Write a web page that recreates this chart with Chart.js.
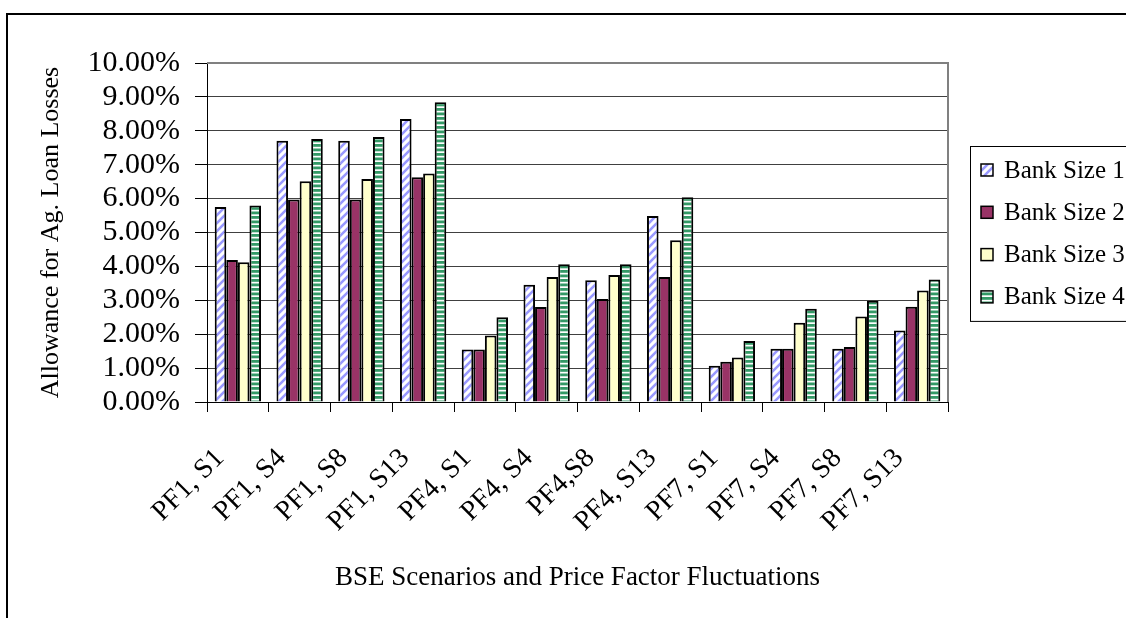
<!DOCTYPE html>
<html>
<head>
<meta charset="utf-8">
<script src="https://cdn.jsdelivr.net/npm/chart.js@4.4.1/dist/chart.umd.min.js"></script>
<style>
  html, body { margin: 0; padding: 0; background: #fff; overflow: hidden; }
  #wrap { position: relative; width: 1126px; height: 618px; }
  canvas { display: block; }
</style>
</head>
<body>
<div id="wrap"><canvas id="chart" width="1126" height="618"></canvas></div>
<script>
// Scenario categories (price factor, BSE scenario)
const categories = ['PF1, S1', 'PF1, S4', 'PF1, S8', 'PF1, S13',
                    'PF4, S1', 'PF4, S4', 'PF4,S8', 'PF4, S13',
                    'PF7, S1', 'PF7, S4', 'PF7, S8', 'PF7, S13'];

const seriesNames = ['Bank Size 1', 'Bank Size 2', 'Bank Size 3', 'Bank Size 4'];

// Allowance for agricultural loan losses, in percent
const bankSize1 = [5.75, 7.71, 7.71, 8.35, 1.55, 3.46, 3.59, 5.49, 1.07, 1.57, 1.57, 2.11];
const bankSize2 = [4.19, 5.97, 5.97, 6.63, 1.55, 2.80, 3.04, 3.69, 1.19, 1.57, 1.62, 2.81];
const bankSize3 = [4.12, 6.51, 6.58, 6.74, 1.96, 3.69, 3.75, 4.77, 1.31, 2.34, 2.52, 3.29];
const bankSize4 = [5.80, 7.76, 7.82, 8.84, 2.50, 4.06, 4.06, 6.04, 1.80, 2.75, 2.99, 3.61];

// Value axis range and step (percent)
const yMin = 0, yMax = 10, yStep = 1;

const SERIF = "'Liberation Serif', 'Times New Roman', serif";

// Fill patterns
function tile(w, h, paint) {
  const c = document.createElement('canvas');
  c.width = w; c.height = h;
  const g = c.getContext('2d');
  paint(g);
  return document.createElement('canvas').getContext('2d').createPattern(c, 'repeat');
}
const diagonalBlue = tile(8, 8, g => {
  g.fillStyle = '#ffffff'; g.fillRect(0, 0, 8, 8);
  g.strokeStyle = '#9999ff'; g.lineWidth = 2.6;
  g.beginPath();
  g.moveTo(-2, 10); g.lineTo(10, -2);
  g.moveTo(-2, 2); g.lineTo(2, -2);
  g.moveTo(6, 10); g.lineTo(10, 6);
  g.stroke();
});
const stripedGreen = tile(4, 9, g => {
  g.fillStyle = '#ffffff'; g.fillRect(0, 0, 4, 9);
  g.fillStyle = '#339966';
  g.fillRect(0, 0, 4, 2.8);
  g.fillRect(0, 4.5, 4, 2.8);
});

const fills = [diagonalBlue, '#993366', '#ffffcc', stripedGreen];
const values = [bankSize1, bankSize2, bankSize3, bankSize4];

// Outer frame and plot-area border
const framePlugin = {
  id: 'frame',
  beforeDraw(chart) {
    const ctx = chart.ctx;
    ctx.save();
    ctx.fillStyle = '#fff';
    ctx.fillRect(0, 0, chart.width, chart.height);
    ctx.strokeStyle = '#000';
    ctx.lineWidth = 2;
    ctx.strokeRect(7, 14, chart.width + 20, chart.height + 20);
    ctx.restore();
  },
  beforeDatasetsDraw(chart) {
    const { ctx, chartArea: a } = chart;
    ctx.save();
    ctx.strokeStyle = '#808080';
    ctx.lineWidth = 2;
    ctx.beginPath();
    ctx.moveTo(a.left, a.top);
    ctx.lineTo(a.right, a.top);
    ctx.lineTo(a.right, a.bottom);
    ctx.stroke();
    ctx.restore();
  }
};

// Boxed legend on the right
const boxLegend = {
  id: 'boxLegend',
  afterDraw(chart) {
    const ctx = chart.ctx;
    const left = 970, top = 146, rowGap = 42.3, firstRow = 24;
    ctx.save();
    ctx.strokeStyle = '#000';
    ctx.lineWidth = 1;
    ctx.strokeRect(left + 0.5, top + 0.5, 300, firstRow * 2 + rowGap * 3);
    ctx.font = '25px ' + SERIF;
    ctx.textBaseline = 'middle';
    ctx.textAlign = 'left';
    chart.data.datasets.forEach((ds, i) => {
      const y = top + firstRow + i * rowGap;
      ctx.fillStyle = ds.backgroundColor;
      ctx.fillRect(981, y - 6, 12, 12);
      ctx.strokeStyle = '#000';
      ctx.lineWidth = 1.5;
      ctx.strokeRect(981, y - 6, 12, 12);
      ctx.fillStyle = '#000';
      ctx.fillText(ds.label, 1004, y + 1);
    });
    ctx.restore();
  }
};

new Chart(document.getElementById('chart'), {
  type: 'bar',
  data: {
    labels: categories,
    datasets: seriesNames.map((name, i) => ({
      label: name,
      data: values[i],
      backgroundColor: fills[i],
      borderColor: '#000',
      borderWidth: 2,
      categoryPercentage: 0.75,
      barPercentage: 1.0
    }))
  },
  options: {
    responsive: false,
    animation: false,
    devicePixelRatio: 1,
    layout: { padding: { left: 30, top: 63, right: 178, bottom: 20 } },
    plugins: { legend: { display: false }, tooltip: { enabled: false } },
    scales: {
      x: {
        grid: { offset: true, drawOnChartArea: false, drawTicks: true, tickLength: 10, tickColor: '#000', tickWidth: 1 },
        border: { color: '#000', width: 1 },
        ticks: {
          autoSkip: false, minRotation: 45, maxRotation: 45,
          padding: 30, labelOffset: -18,
          color: '#000', font: { family: SERIF, size: 28 }
        },
        title: {
          display: true, text: 'BSE Scenarios and Price Factor Fluctuations',
          color: '#000', font: { family: SERIF, size: 27 }, padding: { top: 0, bottom: 4 }
        },
        afterFit(scale) { scale.height = 196; }
      },
      y: {
        min: yMin, max: yMax,
        ticks: {
          autoSkip: false, stepSize: yStep, padding: 15, color: '#000',
          font: { family: SERIF, size: 30 },
          callback: v => v.toFixed(2) + '%'
        },
        grid: { color: '#404040', lineWidth: 1, tickColor: '#000', tickLength: 12 },
        border: { color: '#000', width: 1 },
        title: {
          display: true, text: 'Allowance for Ag. Loan Losses',
          color: '#000', font: { family: SERIF, size: 26 }, padding: { top: 6, bottom: 0 }
        },
        afterFit(scale) { scale.width = 177; }
      }
    }
  },
  plugins: [framePlugin, boxLegend]
});
</script>
</body>
</html>
